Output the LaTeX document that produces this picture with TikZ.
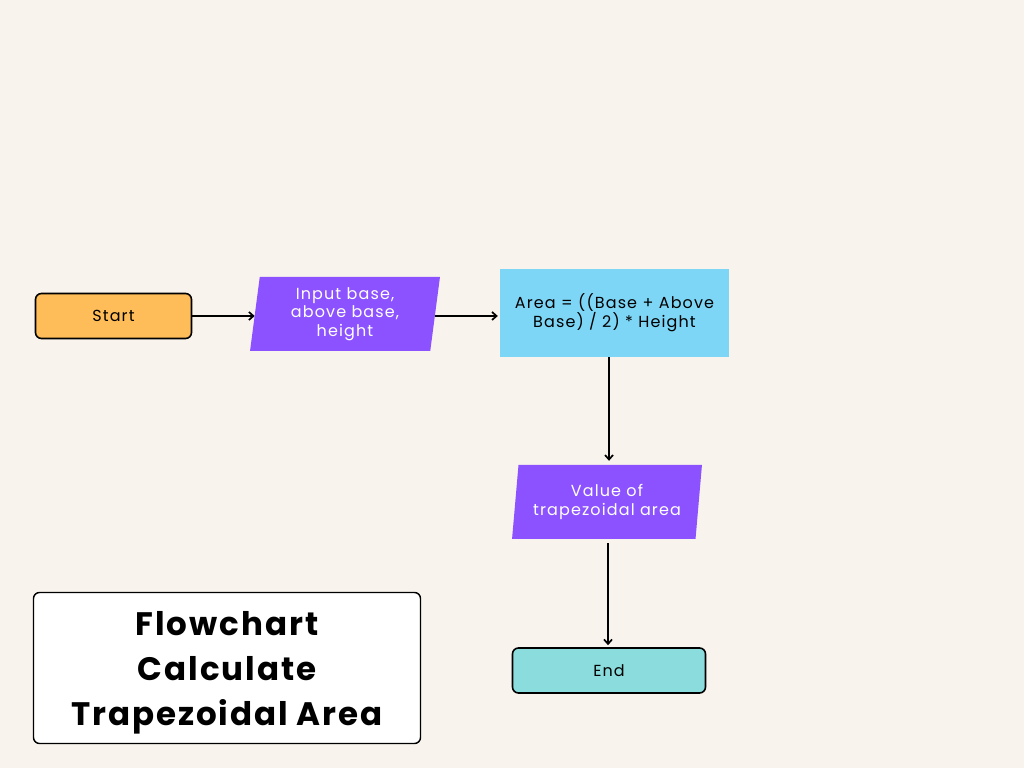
\documentclass[tikz,border=0pt]{standalone}
\usepackage{xcolor}
\usepackage{fontspec}
\setmainfont[LetterSpace=7]{Poppins}
\usepackage{tikz}
\usetikzlibrary{arrows.meta,shapes.geometric}

\definecolor{fond}{HTML}{F8F4ED}
\definecolor{orangebox}{HTML}{FFBD59}
\definecolor{violetbox}{HTML}{8C52FF}
\definecolor{bleubox}{HTML}{7ED6F6}
\definecolor{turquoisebox}{HTML}{8ADDDC}

\tikzset{
  terminal/.style={draw=black,line width=1.6pt,rounded corners=6pt,minimum height=45pt,
    font=\fontsize{16}{18}\selectfont},
  entree/.style={trapezium,trapezium left angle=80.5,trapezium right angle=99.5,trapezium stretches=true,
    fill=violetbox,text=white,minimum height=74pt,align=center,inner sep=1pt,
    font=\fontsize{16}{18.5}\selectfont},
  fleche/.style={-{Straight Barb[length=4.5pt,width=8pt]},line width=1.7pt}
}

\begin{document}
\begin{tikzpicture}[x=1pt,y=1pt]
\fill[fond] (0,0) rectangle (1024,768) ;
\draw (113.5,452) node[terminal,fill=orangebox,minimum width=156pt] (start) {Start} ;
\draw (345,454) node[entree,minimum width=190pt,text width=160pt] (input) {Input base,\\above base,\\height} ;
\draw (614.5,455) node[fill=bleubox,minimum width=229pt,minimum height=88pt,align=center,
  font=\fontsize{16}{19}\selectfont] (area) {Area = ((Base + Above\\Base) / 2) * Height} ;
\draw (607,266) node[entree,minimum width=190pt,text width=170pt,
  font=\fontsize{16}{19}\selectfont] (value) {Value of\\trapezoidal area} ;
\draw (609,97.5) node[terminal,fill=turquoisebox,minimum width=193pt] (end) {End} ;
\draw (227,100) node[draw=black,line width=1.4pt,fill=white,rounded corners=6pt,
  minimum width=387pt,minimum height=151pt,align=center,text depth=-3pt,
  font=\addfontfeature{LetterSpace=6}\fontsize{32.5}{45}\selectfont\bfseries] (titre) {Flowchart\\Calculate\\Trapezoidal Area} ;
\draw[fleche] (start.east) -- (start.east -| input.west) ;
\draw[fleche] (input.east |- start.east) -- ([xshift=-2pt]start.east -| area.west) ;
\draw[fleche] ([xshift=2pt]value.north |- area.south) -- ([xshift=2pt,yshift=4pt]value.north) ;
\draw[fleche,shorten <=4pt,shorten >=2pt] ([xshift=1pt]value.south) -- ([xshift=1pt]value.south |- end.north) ;
\end{tikzpicture}
\end{document}
